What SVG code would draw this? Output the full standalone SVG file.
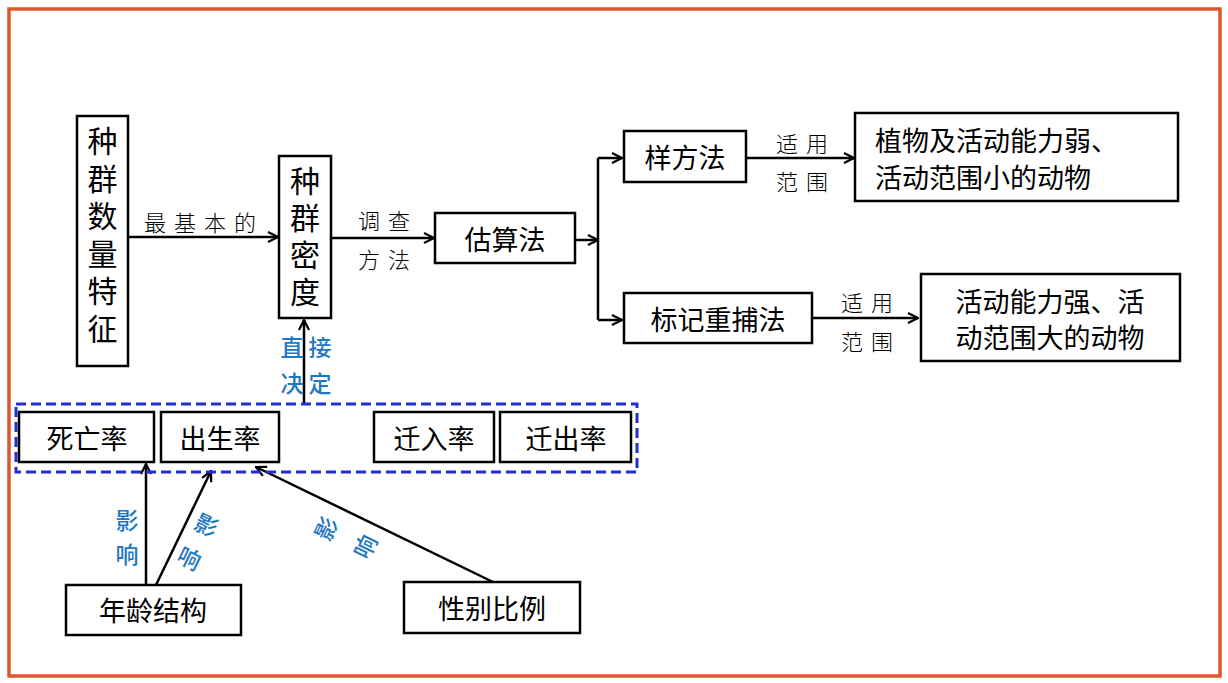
<svg xmlns="http://www.w3.org/2000/svg" width="1228" height="683" viewBox="0 0 1228 683">
<style>
.box{fill:#fff;stroke:#000;stroke-width:2.5}
.t{font-family:"Noto Sans CJK SC","Liberation Sans",sans-serif;font-size:27px;fill:#000;text-anchor:middle;dominant-baseline:central}
.tv{font-family:"Noto Sans CJK SC","Liberation Sans",sans-serif;font-size:30px;fill:#000;writing-mode:vertical-rl}
.lb{font-family:"Noto Sans CJK SC",serif;font-size:22px;font-weight:300;fill:#000;text-anchor:middle;dominant-baseline:central}
.bl{font-family:"Noto Sans CJK SC",sans-serif;font-size:23px;font-weight:500;fill:#1f78c1;text-anchor:middle;dominant-baseline:central}
.ln{fill:none;stroke:#000;stroke-width:2.5}
</style>
<defs>
<marker id="ah" viewBox="0 0 12 12" refX="11" refY="6" markerWidth="12" markerHeight="12" markerUnits="userSpaceOnUse" orient="auto">
<path d="M1,1 L11,6 L1,11" fill="none" stroke="#000" stroke-width="2.2"/>
</marker>
</defs>
<rect x="0" y="0" width="1228" height="683" fill="#fff"/>
<rect x="9" y="9" width="1211" height="667" fill="none" stroke="#e0562c" stroke-width="3.5"/>

<g id="connectors">
<path class="ln" d="M128,237 H278" marker-end="url(#ah)"/>
<path class="ln" d="M331,238 H434" marker-end="url(#ah)"/>
<path class="ln" d="M575,240 H598" marker-end="url(#ah)"/>
<path class="ln" d="M598,158 V320"/>
<path class="ln" d="M598,158 H622" marker-end="url(#ah)"/>
<path class="ln" d="M598,320 H622" marker-end="url(#ah)"/>
<path class="ln" d="M746,158 H854" marker-end="url(#ah)"/>
<path class="ln" d="M812,318 H918" marker-end="url(#ah)"/>
<path class="ln" d="M304,404 V320" marker-end="url(#ah)"/>
<path class="ln" d="M146,585 V464" marker-end="url(#ah)"/>
<path class="ln" d="M156,585 L211,471" marker-end="url(#ah)"/>
<path class="ln" d="M493,582 L256,467" marker-end="url(#ah)"/>
<text class="lb" x="204" y="221" letter-spacing="8">最基本的</text>
<text class="lb" x="388" y="219" letter-spacing="8">调查</text>
<text class="lb" x="388" y="258" letter-spacing="8">方法</text>
<text class="lb" x="806" y="142" letter-spacing="8">适用</text>
<text class="lb" x="806" y="180" letter-spacing="8">范围</text>
<text class="lb" x="871" y="301" letter-spacing="8">适用</text>
<text class="lb" x="871" y="340" letter-spacing="8">范围</text>
<text class="bl" x="292" y="346">直</text>
<text class="bl" x="320" y="346">接</text>
<text class="bl" x="292" y="382">决</text>
<text class="bl" x="320" y="382">定</text>
<text class="bl" x="127" y="519">影</text>
<text class="bl" x="127" y="553">响</text>
<text class="bl" transform="translate(207,524) rotate(26)" x="0" y="0">影</text>
<text class="bl" transform="translate(190,557) rotate(26)" x="0" y="0">响</text>
<text class="bl" transform="translate(325,528) rotate(-64)" x="0" y="0">影</text>
<text class="bl" transform="translate(364,546) rotate(-64)" x="0" y="0">响</text>
</g>

<g id="node-quantity">
<rect class="box" x="77" y="116" width="51" height="250"/>
<text class="tv" x="102.5" y="126" letter-spacing="7.5">种群数量特征</text>
</g>
<g id="node-density">
<rect class="box" x="279" y="156" width="52" height="162"/>
<text class="tv" x="305" y="166" letter-spacing="7">种群密度</text>
</g>
<g id="node-estimate">
<rect class="box" x="435" y="213" width="140" height="50"/>
<text class="t" x="505" y="238">估算法</text>
</g>
<g id="node-quadrat">
<rect class="box" x="624" y="131" width="122" height="51"/>
<text class="t" x="685" y="156">样方法</text>
</g>
<g id="node-quadrat-scope">
<rect class="box" x="855" y="113" width="323" height="88"/>
<text class="t" x="875" y="139" style="text-anchor:start">植物及活动能力弱、</text>
<text class="t" x="875" y="176" style="text-anchor:start">活动范围小的动物</text>
</g>
<g id="node-markrecapture">
<rect class="box" x="624" y="293" width="188" height="50"/>
<text class="t" x="718" y="318">标记重捕法</text>
</g>
<g id="node-mark-scope">
<rect class="box" x="921" y="274" width="259" height="87"/>
<text class="t" x="1050" y="300">活动能力强、活</text>
<text class="t" x="1050" y="336">动范围大的动物</text>
</g>
<g id="group-rates">
<rect x="16" y="404" width="621" height="68" fill="none" stroke="#1f2fd0" stroke-width="3" stroke-dasharray="10,5"/>
</g>
<g id="node-death">
<rect class="box" x="19" y="412" width="135" height="50"/>
<text class="t" x="87" y="437">死亡率</text>
</g>
<g id="node-birth">
<rect class="box" x="161" y="412" width="118" height="50"/>
<text class="t" x="220" y="437">出生率</text>
</g>
<g id="node-immigration">
<rect class="box" x="374" y="412" width="120" height="50"/>
<text class="t" x="434" y="437">迁入率</text>
</g>
<g id="node-emigration">
<rect class="box" x="500" y="412" width="131" height="50"/>
<text class="t" x="566" y="437">迁出率</text>
</g>
<g id="node-age">
<rect class="box" x="66" y="585" width="175" height="50"/>
<text class="t" x="153" y="609">年龄结构</text>
</g>
<g id="node-sex">
<rect class="box" x="404" y="582" width="176" height="51"/>
<text class="t" x="492" y="607">性别比例</text>
</g>
</svg>
